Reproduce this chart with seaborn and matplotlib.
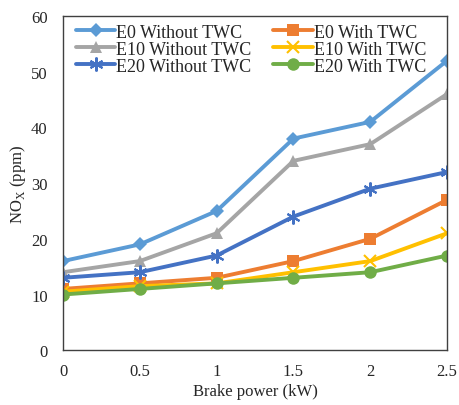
import matplotlib
matplotlib.use("Agg")
import matplotlib.pyplot as plt
import seaborn as sns
import pandas as pd

power = [0, 0.5, 1, 1.5, 2, 2.5]
series_names = ["E0 Without TWC", "E0 With TWC", "E10 Without TWC",
                "E10 With TWC", "E20 Without TWC", "E20 With TWC"]
e0_without = [16, 19, 25, 38, 41, 52]
e0_with = [11, 12, 13, 16, 20, 27]
e10_without = [14, 16, 21, 34, 37, 46]
e10_with = [10.5, 11.5, 12, 14, 16, 21]
e20_without = [13, 14, 17, 24, 29, 32]
e20_with = [10, 11, 12, 13, 14, 17]
values = [e0_without, e0_with, e10_without, e10_with, e20_without, e20_with]
x_ticks = [0, 0.5, 1, 1.5, 2, 2.5]
x_tick_labels = ["0", "0.5", "1", "1.5", "2", "2.5"]
y_ticks = [0, 10, 20, 30, 40, 50, 60]

colors = ["#5B9BD5", "#ED7D31", "#A5A5A5", "#FFC000", "#4472C4", "#70AD47"]
markers = ["D", "s", "^", "x", (6, 2, 0), "o"]
msizes = [7, 9, 9, 9, 10, 9]

rows = []
for name, vals in zip(series_names, values):
    for p, v in zip(power, vals):
        rows.append({"power": p, "nox": v, "series": name})
df = pd.DataFrame(rows)

sns.set_style("white")
plt.rcParams["font.family"] = ["Liberation Serif", "DejaVu Serif"]

fig = plt.figure(figsize=(4.6, 4.06), dpi=100)
ax = fig.add_axes([0.137, 0.135, 0.835, 0.823])

handles = {}
for name, c, m, ms in zip(series_names, colors, markers, msizes):
    sub = df[df["series"] == name]
    sns.lineplot(data=sub, x="power", y="nox", ax=ax, color=c, marker=m,
                 markersize=ms, linewidth=2.8,
                 markeredgewidth=1.5 if m in ("x", (6, 2, 0)) else 0,
                 markeredgecolor=c, label=name)
    handles[name] = ax.get_lines()[-1]

ax.set_xlim(0, 2.5)
ax.set_ylim(0, 60)
ax.set_xticks(x_ticks)
ax.set_xticklabels(x_tick_labels)
ax.set_yticks(y_ticks)
ax.tick_params(axis="x", length=0, labelsize=12, pad=9)
ax.tick_params(axis="y", length=0, labelsize=12, pad=11)
ax.set_xlabel("Brake power (kW)", fontsize=12, labelpad=3)
ax.set_ylabel("NO$_\\mathregular{X}$ (ppm)", fontsize=12, labelpad=2)
for s in ax.spines.values():
    s.set_color("#404040")
    s.set_linewidth(1.0)

order = ["E0 Without TWC", "E10 Without TWC", "E20 Without TWC",
         "E0 With TWC", "E10 With TWC", "E20 With TWC"]
ax.legend([handles[n] for n in order], order, ncol=2, loc="upper left",
          bbox_to_anchor=(0.0, 1.015), frameon=False,
          fontsize=13, handlelength=2.2, columnspacing=1.2, labelspacing=0.0,
          handletextpad=0.05, borderaxespad=0.3)

fig.savefig("out.png", dpi=100)
